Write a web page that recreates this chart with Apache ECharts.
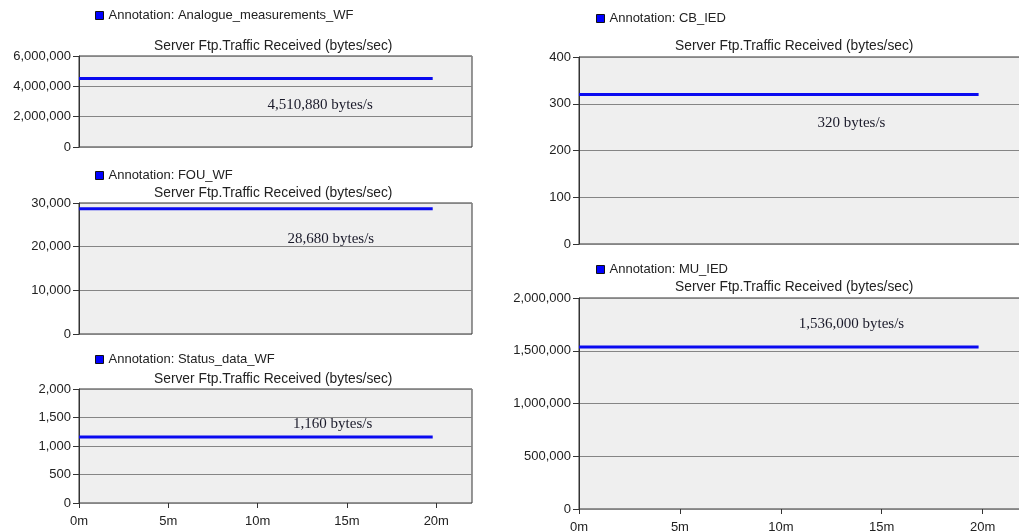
<!DOCTYPE html>
<html>
<head>
<meta charset="utf-8">
<script src="https://cdn.jsdelivr.net/npm/echarts@6/dist/echarts.min.js"></script>
<style>
  html, body { margin: 0; padding: 0; background: #fff; }
  #main { width: 1019px; height: 532px; }
</style>
</head>
<body>
<div id="main"></div>
<script>
// data
var names = ['Analogue_measurements_WF', 'FOU_WF', 'Status_data_WF', 'CB_IED', 'MU_IED']
var times = [0, 19.8]
var analogueValues = [4510880, 4510880]
var fouValues = [28680, 28680]
var statusValues = [1160, 1160]
var cbValues = [320, 320]
var muValues = [1536000, 1536000]
var yMax = [6000000, 30000, 2000, 400, 2000000]
var yStep = [2000000, 10000, 500, 100, 500000]
var xTickValues = [0, 5, 10, 15, 20]
// where the annotation text sits, in data units
var notePos = [[13.5, 2770000], [14.1, 21750], [14.2, 1385], [13.5, 259], [13.5, 1755000]]
var noteText = ['4,510,880 bytes/s', '28,680 bytes/s', '1,160 bytes/s', '320 bytes/s', '1,536,000 bytes/s']

var allValues = [analogueValues, fouValues, statusValues, cbValues, muValues]

// panel boxes: left, top, width, height
var boxes = [
    [79, 56, 393, 91],
    [79, 203, 393, 131],
    [79, 389, 393, 114],
    [579, 57, 444, 187],
    [579, 298, 444, 211]
]
var legendPos = [[95, 9], [95, 169], [95, 353], [596, 12], [596, 263]]
var titlePos = [[154, 39], [154, 186], [154, 372], [675, 39], [675, 280]]
var showX = [false, false, true, false, true]

var sans = 'Liberation Sans, Arial, sans-serif'
var grids = [], xAxes = [], yAxes = [], series = [], legends = [], titles = []

names.forEach(function (n, i) {
    var b = boxes[i]
    var label = 'Annotation: ' + n
    grids.push({
        left: b[0], top: b[1], width: b[2], height: b[3],
        outerBoundsMode: 'none', containLabel: false,
        show: true, backgroundColor: '#efefef', borderColor: '#333', borderWidth: 1
    })
    xAxes.push({
        gridIndex: i, type: 'value', min: 0, max: 22, interval: 5,
        axisLine: { show: false },
        axisTick: { show: showX[i], length: 5, customValues: xTickValues, lineStyle: { color: '#333' } },
        axisLabel: {
            show: showX[i], color: '#222', fontFamily: sans, fontSize: 13, margin: 12,
            customValues: xTickValues,
            formatter: function (v) { return v + 'm' }
        },
        splitLine: { show: false }
    })
    yAxes.push({
        gridIndex: i, type: 'value', min: 0, max: yMax[i], interval: yStep[i],
        axisLine: { show: true, lineStyle: { color: '#333' } },
        axisTick: { show: true, length: 6, lineStyle: { color: '#333' } },
        axisLabel: {
            color: '#222', fontFamily: sans, fontSize: 13, margin: 8,
            formatter: function (v) { return v.toLocaleString('en-US') }
        },
        splitLine: { show: true, lineStyle: { color: '#858585', width: 1 } }
    })
    series.push({
        name: label, type: 'line', xAxisIndex: i, yAxisIndex: i,
        data: times.map(function (t, k) { return [t, allValues[i][k]] }),
        showSymbol: false, symbol: 'none', silent: true,
        lineStyle: { color: '#0a0af0', width: 3 },
        itemStyle: { color: '#0000ff' },
        markPoint: {
            symbol: 'rect', symbolSize: 1,
            itemStyle: { color: 'rgba(0,0,0,0)' },
            label: {
                show: true, position: 'inside', formatter: noteText[i],
                fontFamily: 'Liberation Serif, Times New Roman, serif', fontSize: 15, color: '#1a1a2a'
            },
            data: [{ coord: notePos[i] }]
        }
    })
    legends.push({
        data: [label], left: legendPos[i][0], top: legendPos[i][1],
        icon: 'rect', itemWidth: 8, itemHeight: 8, padding: 0,
        itemStyle: { color: '#0000ff', borderColor: '#111', borderWidth: 1 },
        textStyle: { color: '#222', fontFamily: sans, fontSize: 13 },
        selectedMode: false
    })
    titles.push({
        text: 'Server Ftp.Traffic Received (bytes/sec)',
        left: titlePos[i][0], top: titlePos[i][1], padding: 0,
        textStyle: { color: '#222', fontFamily: sans, fontSize: 13.8, fontWeight: 'normal' }
    })
})

var chart = echarts.init(document.getElementById('main'))
chart.setOption({
    animation: false,
    backgroundColor: '#fff',
    title: titles,
    legend: legends,
    grid: grids,
    xAxis: xAxes,
    yAxis: yAxes,
    series: series
})
</script>
</body>
</html>
